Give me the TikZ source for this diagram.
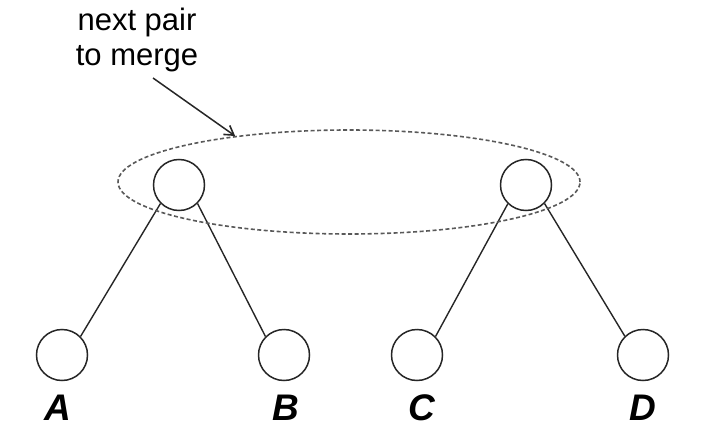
\documentclass[tikz,border=0pt]{standalone}
\usepackage{fontspec}
\setmainfont{Liberation Sans}
\usetikzlibrary{arrows.meta,shapes.geometric}
\begin{document}
\begin{tikzpicture}[x=1pt,y=-1pt,
  vert/.style={circle,draw=black!85,line width=1.5pt,minimum size=51pt,inner sep=0pt},
  edge/.style={draw=black!85,line width=1.4pt},
  lbl/.style={anchor=base,font=\fontsize{37}{40}\selectfont\bfseries\itshape,inner sep=0pt},
  grp/.style={draw=black!65,line width=1.6pt,dash pattern=on 4pt off 2.5pt}]
\useasboundingbox (0,0) rectangle (714,441);
\node[vert] (L) at (179,185) {};
\node[vert] (R) at (526,185) {};
\node[vert] (A) at (62,355) {};
\node[vert] (B) at (284,355) {};
\node[vert] (C) at (417,355) {};
\node[vert] (D) at (643,355) {};
\draw[edge] (L.225) -- (A.45);
\draw[edge] (L.315) -- (B.135);
\draw[edge] (R.226) -- (C.45);
\draw[edge] (R.315) -- (D.134);
\node[lbl] (la) at (58,420) {A};
\node[lbl] (lb) at (286,420) {B};
\node[lbl] (lc) at (422,420) {C};
\node[lbl] (ld) at (643,420) {D};
\node[grp,ellipse,minimum width=462pt,minimum height=104pt,inner sep=0pt] (G) at (349,182) {};
\node[align=center,font=\fontsize{31}{35}\selectfont,inner sep=0pt,anchor=base] (T) at (137,66) {next pair\\to merge};
\coordinate (as) at (153,78);
\draw[line width=1.5pt,black!85,-{Straight Barb[length=9pt,width=11pt,line width=1.6pt]}] (as) -- (G.158);
\end{tikzpicture}
\end{document}
